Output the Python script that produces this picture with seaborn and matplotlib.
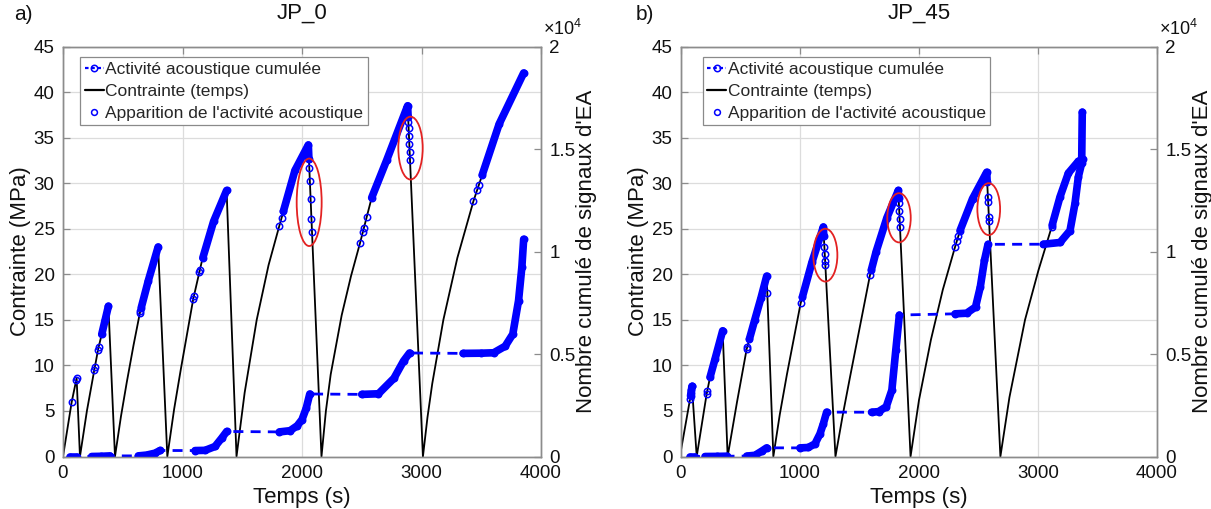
import matplotlib
matplotlib.use("Agg")
import matplotlib.pyplot as plt
from matplotlib.lines import Line2D
from matplotlib.patches import Ellipse
import pandas as pd
import seaborn as sns

# ======================= DATA =======================
titles = ["JP_0", "JP_45"]
panel_tags = ["a)", "b)"]
x_ticks = [0, 1000, 2000, 3000, 4000]
y_ticks = [0, 5, 10, 15, 20, 25, 30, 35, 40, 45]
n_ticks = [0, 5000, 10000, 15000, 20000]
n_tick_labels = ["0", "0.5", "1", "1.5", "2"]
legend_labels = ["Activité acoustique cumulée", "Contrainte (temps)",
                 "Apparition de l'activité acoustique"]

# ---- panel a) JP_0 ----
stress_a_t = [0, 73, 114, 142, 200, 262, 296, 324, 380, 435, 485, 533, 590, 644, 714, 796,
              873, 930, 985, 1090, 1165, 1260, 1369, 1452, 1520, 1621, 1720, 1810, 1941, 2053,
              2163, 2200, 2240, 2332, 2410, 2485, 2583, 2708, 2884, 3012, 3050, 3090, 3183,
              3300, 3434, 3508, 3650, 3855]
stress_a_s = [0, 6.0, 8.6, 0, 5.0, 9.5, 11.9, 13.4, 16.5, 0, 4.4, 8.1, 12.2, 15.8, 19.3, 23.0,
              0, 5.2, 9.5, 17.3, 21.6, 25.8, 29.2, 0, 7.0, 15.0, 21.0, 25.3, 31.4, 34.2,
              0, 5.0, 9.0, 15.5, 19.8, 23.4, 28.4, 32.5, 38.5, 0, 4.3, 8.0, 15.0,
              21.8, 28.0, 30.9, 36.5, 42.1]
ae_a_t = [73, 110, 114, 262, 266, 293, 298, 644, 648, 1090, 1095, 1140, 1146, 1810, 1830,
          2061, 2066, 2072, 2079, 2084, 2485, 2508, 2519, 2541, 2890, 2892, 2895, 2898,
          2901, 2904, 3434, 3467, 3480]
ae_a_s = [6.0, 8.35, 8.6, 9.5, 9.78, 11.69, 12.0, 15.8, 16.0, 17.3, 17.6, 20.2, 20.5, 25.3,
          26.2, 31.7, 30.2, 28.3, 26.1, 24.6, 23.4, 24.6, 25.1, 26.3, 36.7, 36.1, 35.2,
          34.3, 33.4, 32.5, 28.0, 29.3, 29.8]
aeband_a_t = [324, 352, 380, 655, 714, 796, 1170, 1260, 1369, 1844, 1941, 2053, 2058,
              2583, 2708, 2884, 2888, 3508, 3650, 3855]
aeband_a_s = [13.4, 14.95, 16.5, 16.35, 19.3, 23.0, 21.8, 25.8, 29.2, 26.9, 31.4, 34.2, 32.6,
              28.4, 32.5, 38.5, 37.3, 30.9, 36.5, 42.1]
aeband_a_seg = [1, 1, 1, 2, 2, 2, 3, 3, 3, 4, 4, 4, 4, 5, 5, 5, 5, 6, 6, 6]
cum_a_t = [60, 114, 240, 320, 393, 630, 700, 770, 812, 1105, 1189, 1272, 1328, 1370,
           1811, 1900, 1960, 2000, 2035, 2065, 2500, 2640, 2770, 2850, 2900,
           3348, 3500, 3604, 3700, 3764, 3812, 3840, 3855]
cum_a_n = [0, 0, 0, 10, 30, 30, 70, 163, 293, 290, 300, 488, 895, 1221,
           1200, 1260, 1500, 1800, 2350, 3050, 3030, 3060, 3820, 4660, 5050,
           5030, 5040, 5060, 5380, 5970, 7600, 9250, 10600]
cum_a_seg = [0, 0, 1, 1, 1, 2, 2, 2, 2, 3, 3, 3, 3, 3, 4, 4, 4, 4, 4, 4, 5, 5, 5, 5, 5,
             6, 6, 6, 6, 6, 6, 6, 6]
ell_a_t = [2060, 2908]
ell_a_s = [27.9, 33.85]
ell_a_w = [209, 204]
ell_a_h = [9.6, 6.9]

# ---- panel b) JP_45 ----
stress_b_t = [0, 76, 92, 132, 216, 244, 286, 350, 392, 471, 552, 620, 672, 720,
              776, 830, 890, 1005, 1100, 1196, 1298, 1360, 1420, 1546, 1588, 1640, 1730, 1826,
              1929, 2000, 2100, 2200, 2303, 2345, 2450, 2569, 2684, 2760, 2891, 3003,
              3115, 3185, 3255, 3339, 3375]
stress_b_s = [0.7, 6.3, 7.7, 0, 6.9, 8.7, 10.7, 13.8, 0, 6.0, 11.8, 15.0, 17.4, 19.8,
              0, 4.6, 9.0, 16.8, 21.3, 25.2, 0, 4.6, 8.7, 17.1, 19.9, 22.5, 26.2, 29.2,
              0, 6.2, 12.8, 18.3, 23.0, 24.8, 28.3, 31.2, 0, 6.5, 15.0, 20.4,
              25.2, 28.5, 31.1, 32.4, 32.6]
ae_b_t = [76, 84, 88, 92, 216, 220, 552, 556, 725, 1005, 1205, 1208, 1211, 1213, 1588,
          1831, 1834, 1837, 1840, 2303, 2317, 2330, 2579, 2581, 2587, 2589, 3115]
ae_b_s = [6.3, 7.0, 7.35, 7.7, 6.9, 7.16, 11.8, 12.0, 18.0, 16.8, 23.0, 22.2, 21.5, 21.0,
          19.9, 27.8, 26.9, 26.1, 25.2, 23.0, 23.6, 24.2, 28.5, 27.9, 26.3, 25.8, 25.2]
aeband_b_t = [80, 92, 244, 286, 350, 575, 620, 672, 720, 1020, 1100, 1196, 1200,
              1600, 1640, 1730, 1826, 1829, 2345, 2450, 2569, 2573,
              3120, 3185, 3255, 3339, 3375]
aeband_b_s = [6.65, 7.7, 8.7, 10.7, 13.8, 12.9, 15.0, 17.4, 19.8, 17.5, 21.3, 25.2, 24.2,
              20.5, 22.5, 26.2, 29.2, 28.35, 24.8, 28.3, 31.2, 30.1,
              25.44, 28.5, 31.1, 32.4, 32.6]
aeband_b_seg = [0, 0, 1, 1, 1, 2, 2, 2, 2, 3, 3, 3, 3, 4, 4, 4, 4, 4, 5, 5, 5, 5,
                6, 6, 6, 6, 6]
cum_b_t = [76, 118, 202, 300, 384, 552, 622, 678, 720, 1000, 1070, 1126, 1168, 1196, 1224,
           1601, 1660, 1725, 1772, 1805, 1835, 2303, 2400, 2475, 2515, 2550, 2580,
           3045, 3185, 3269, 3311, 3339, 3367, 3372]
cum_b_n = [0, 0, 0, 5, 15, 20, 60, 260, 423, 420, 440, 618, 1107, 1595, 2165,
           2160, 2190, 2430, 3240, 5190, 6900, 6960, 6990, 7290, 8270, 9570, 10350,
           10355, 10440, 11020, 12350, 13640, 14310, 16800]
cum_b_seg = [0, 0, 1, 1, 1, 2, 2, 2, 2, 3, 3, 3, 3, 3, 3, 4, 4, 4, 4, 4, 4,
             5, 5, 5, 5, 5, 5, 6, 6, 6, 6, 6, 6, 6]
ell_b_t = [1213, 1832, 2586]
ell_b_s = [22.1, 26.2, 27.15]
ell_b_w = [202, 197, 191]
ell_b_h = [5.8, 5.4, 5.7]

# ======================= STYLE =======================
sns.set_theme(style="white")
plt.rcParams["font.family"] = ["Liberation Sans", "DejaVu Sans"]
plt.rcParams["mathtext.fontset"] = "custom"
plt.rcParams["mathtext.rm"] = "Liberation Sans"
plt.rcParams["mathtext.it"] = "Liberation Sans:italic"

BLUE = "#0000ff"
RED = "#e32222"
SPINE = "#8c8c8c"
GRID = "#dcdcdc"
TXT = "#111111"
W, H = 1211, 509

fig = plt.figure(figsize=(W / 100, H / 100), dpi=100)
fig.patch.set_facecolor("white")

panels = [
    dict(rect=[63 / W, (H - 456.5) / H, 478 / W, 410 / H], tag_x=14,
         st=stress_a_t, ss=stress_a_s, at=ae_a_t, as_=ae_a_s,
         bt=aeband_a_t, bs=aeband_a_s, bseg=aeband_a_seg,
         ct=cum_a_t, cn=cum_a_n, cseg=cum_a_seg,
         et=ell_a_t, es=ell_a_s, ew=ell_a_w, eh=ell_a_h, leg_x=0.036),
    dict(rect=[681 / W, (H - 456.5) / H, 476 / W, 410 / H], tag_x=636,
         st=stress_b_t, ss=stress_b_s, at=ae_b_t, as_=ae_b_s,
         bt=aeband_b_t, bs=aeband_b_s, bseg=aeband_b_seg,
         ct=cum_b_t, cn=cum_b_n, cseg=cum_b_seg,
         et=ell_b_t, es=ell_b_s, ew=ell_b_w, eh=ell_b_h, leg_x=0.046),
]

for i, p in enumerate(panels):
    ax = fig.add_axes(p["rect"])
    ax2 = ax.twinx()
    ax.set_xlim(0, 4000)
    ax.set_ylim(0, 45)
    ax2.set_ylim(0, 20000)

    ax.grid(True, color=GRID, lw=0.9)
    ax.set_axisbelow(True)

    # stress curve (left axis)
    sns.lineplot(x=p["st"], y=p["ss"], ax=ax, color="black", lw=1.3,
                 sort=False, estimator=None)
    # dense acoustic-activity occurrences on stress curve
    dfb = pd.DataFrame({"t": p["bt"], "s": p["bs"], "seg": p["bseg"]})
    sns.lineplot(data=dfb, x="t", y="s", units="seg", estimator=None, sort=False,
                 color=BLUE, lw=5.5, ax=ax, solid_capstyle="round")
    ax.plot(p["at"] + p["bt"], p["as_"] + p["bs"], ls="none", marker="o", ms=4.6,
            mfc="none", mec=BLUE, mew=1.1, zorder=4)

    # red ellipses
    for et, es, ew, eh in zip(p["et"], p["es"], p["ew"], p["eh"]):
        ax.add_patch(Ellipse((et, es), ew, eh, fill=False, ec=RED, lw=1.3, zorder=6))

    # cumulative acoustic activity (right axis)
    sns.lineplot(x=p["ct"], y=p["cn"], ax=ax2, color=BLUE, lw=2.0, sort=False,
                 estimator=None, dashes=False)
    ax2.lines[-1].set_dashes([3.6, 2.6])
    dfc = pd.DataFrame({"t": p["ct"], "n": p["cn"], "seg": p["cseg"]})
    sns.lineplot(data=dfc, x="t", y="n", units="seg", estimator=None, sort=False,
                 color=BLUE, lw=5.5, ax=ax2, solid_capstyle="round")
    ax2.plot(p["ct"], p["cn"], ls="none", marker="o", ms=4.6, mfc="none",
             mec=BLUE, mew=1.1)

    # axes styling
    ax.set_xticks(x_ticks)
    ax.set_xticklabels([str(v) for v in x_ticks])
    ax.set_yticks(y_ticks)
    ax.set_yticklabels([str(v) for v in y_ticks])
    ax2.set_yticks(n_ticks)
    ax2.set_yticklabels(n_tick_labels)
    for a in (ax, ax2):
        for sp in a.spines.values():
            sp.set_color(SPINE)
            sp.set_linewidth(1.0)
    ax.tick_params(axis="both", direction="in", length=5, width=0.9, color=SPINE,
                   labelsize=13.5, labelcolor=TXT, top=True, right=False, pad=6)
    ax2.tick_params(axis="y", direction="in", length=5, width=0.9, color=SPINE,
                    labelsize=13.5, labelcolor=TXT, left=False, right=True, pad=6)

    ax.set_xlabel("Temps (s)", fontsize=16, color=TXT)
    ax.xaxis.set_label_coords(0.5, -31 / 410)
    ax.set_ylabel("Contrainte (MPa)", fontsize=16, color=TXT)
    ax.yaxis.set_label_coords(-32 / 478, 0.5)
    ax2.set_ylabel("Nombre cumulé de signaux d'EA", fontsize=16, color=TXT)
    ax2.yaxis.set_label_coords(1 + 35 / 478, 0.5)
    ax.set_title(titles[i], fontsize=16, color=TXT, pad=20)

    ax2.text(1.0 + 2 / 478, 1.0 + 12 / 410, r"$\times10^{4}$", transform=ax2.transAxes,
             ha="left", va="baseline", fontsize=13, color=TXT)
    fig.text(p["tag_x"] / W, 1 - 20 / H, panel_tags[i], fontsize=15, color=TXT,
             ha="left", va="baseline")

    handles = [
        Line2D([], [], color=BLUE, ls="--", lw=1.6, marker="o", ms=4.6, mfc="none",
               mew=1.1, dashes=[1.6, 1.2]),
        Line2D([], [], color="black", lw=1.6),
        Line2D([], [], color=BLUE, ls="none", marker="o", ms=4.2, mfc="none", mew=1.1),
    ]
    leg = ax2.legend(handles, legend_labels, loc="upper left",
                     bbox_to_anchor=(p["leg_x"], 0.974), borderaxespad=0,
                     fontsize=12.5, frameon=True, fancybox=False, framealpha=1,
                     edgecolor="#8a8a8a", handlelength=1.1, handletextpad=0.1,
                     borderpad=0.25, labelspacing=0.4)
    leg.get_frame().set_linewidth(0.9)
    leg.set_zorder(10)

fig.savefig("out.png", dpi=100, facecolor="white")
